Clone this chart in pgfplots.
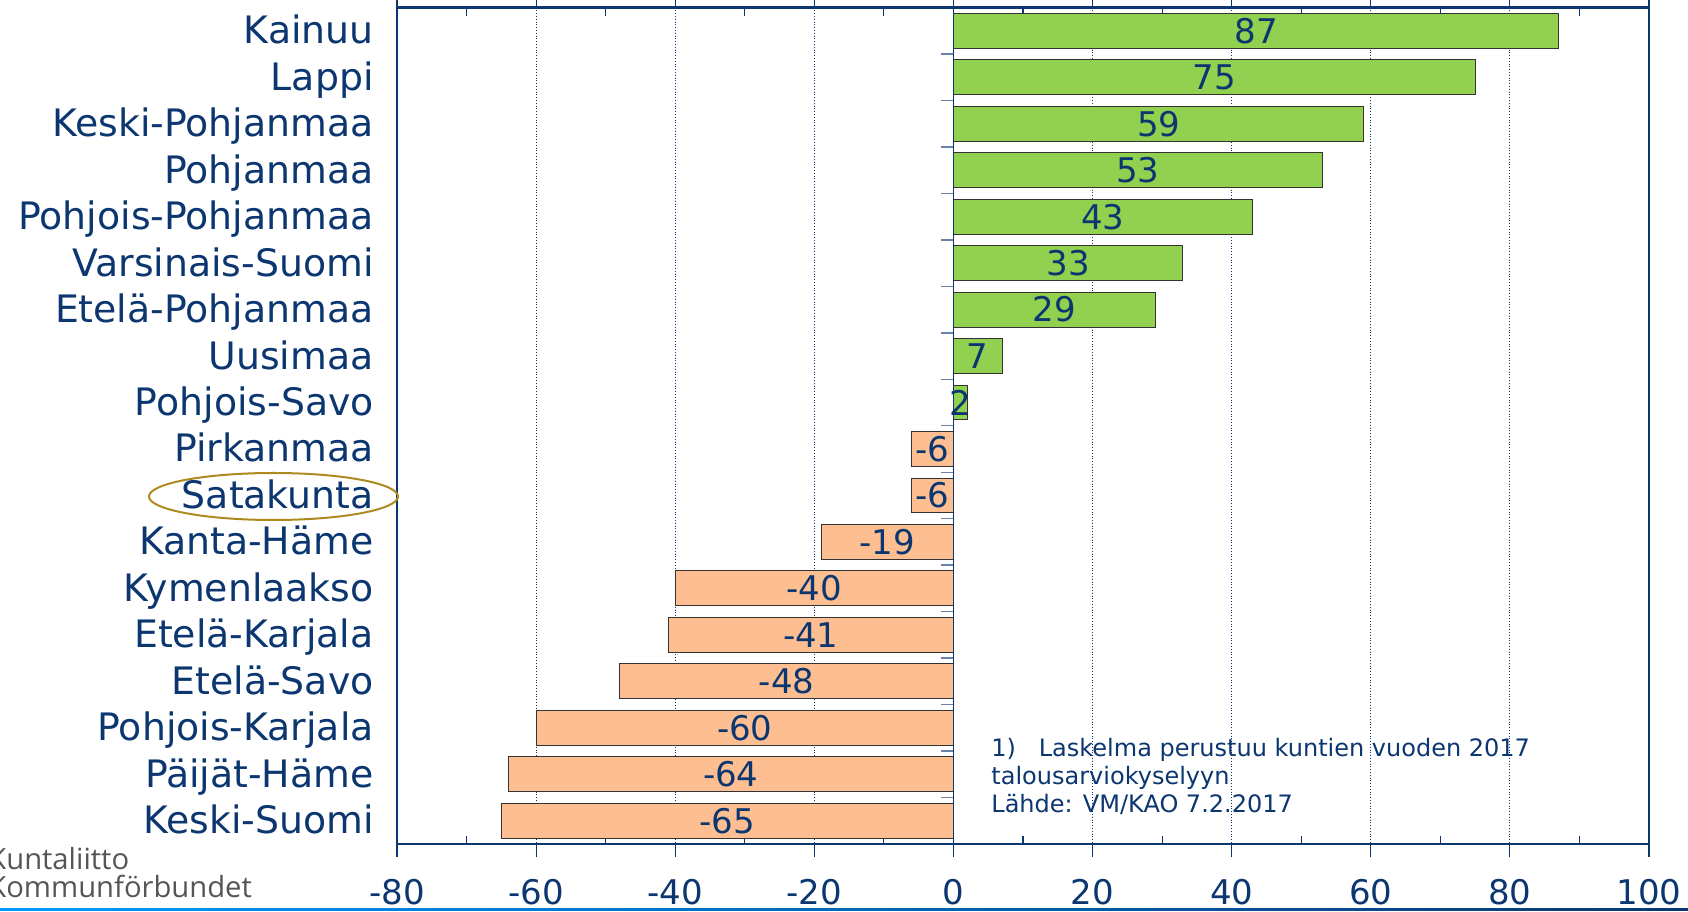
\documentclass[border=0pt]{standalone}
\usepackage{fontspec}
\setmainfont{DejaVu Sans}
\newfontfamily\logofont{Open Sans}
\usepackage{pgfplots}
\usepackage{pgfplotstable}
\pgfplotsset{compat=1.18}
\definecolor{navy}{HTML}{0B3670}
\definecolor{barpos}{HTML}{92D050}
\definecolor{barneg}{HTML}{FDBF92}
\definecolor{gold}{HTML}{AD8A1F}
\definecolor{tickblue}{HTML}{6A82AA}
\definecolor{logogray}{HTML}{555555}

% index 0 = top row
\pgfplotstableread{
i v
0 87
1 75
2 59
3 53
4 43
5 33
6 29
7 7
8 2
}\posdata
\pgfplotstableread{
i v
9 -6
10 -6
11 -19
12 -40
13 -41
14 -48
15 -60
16 -64
17 -65
}\negdata

\begin{document}
\begin{tikzpicture}
\useasboundingbox (0,0) rectangle (844pt,455.5pt);
\begin{axis}[
  at={(198.5pt,33.5pt)}, anchor=south west,
  scale only axis, width=626pt, height=418.25pt,
  xmin=-80, xmax=100,
  ymin=-0.5, ymax=17.5, y dir=reverse,
  xtick={-80,-60,...,100},
  xticklabels={-80,-60,-40,-20,0,20,40,60,80,100},
  extra x ticks={-70,-50,...,90},
  extra x tick labels={},
  extra x tick style={grid=none, tick align=inside, major tick length=4pt},
  tick align=outside, major tick length=6.5pt,
  x tick style={navy, line width=0.6pt},
  ytick={0,...,17},
  yticklabels={Kainuu,Lappi,Keski-Pohjanmaa,Pohjanmaa,Pohjois-Pohjanmaa,Varsinais-Suomi,Etelä-Pohjanmaa,Uusimaa,Pohjois-Savo,Pirkanmaa,Satakunta,Kanta-Häme,Kymenlaakso,Etelä-Karjala,Etelä-Savo,Pohjois-Karjala,Päijät-Häme,Keski-Suomi},
  y tick style={draw=none},
  xmajorgrids,
  grid style={navy, densely dotted, line width=0.5pt},
  axis line style={navy, line width=1.1pt},
  xticklabel style={anchor=north, inner sep=0pt, yshift=-11pt, font=\fontsize{17}{17}\selectfont, text=navy},
  yticklabel style={anchor=base east, inner sep=0pt, xshift=-5pt, yshift=-6.5pt, font=\fontsize{18.9}{19}\selectfont, text=navy},
  clip=false,
]
\addplot[xbar, bar width=0.75, bar shift=0pt, fill=barpos, draw=black!80, line width=0.5pt] table[x=v, y=i] {\posdata};
\addplot[xbar, bar width=0.75, bar shift=0pt, fill=barneg, draw=black!80, line width=0.5pt] table[x=v, y=i] {\negdata};
% zero line with category ticks
\draw[navy, line width=0.8pt] (axis cs:0,-0.5) -- (axis cs:0,17.5);
\pgfplotsinvokeforeach{0,...,16}{
  \draw[tickblue, line width=0.7pt] (axis cs:0,#1.5) -- ([xshift=-6pt]axis cs:0,#1.5);
}
\addplot[only marks, mark=*, mark size=0pt, mark options={draw=none, fill=none},
  nodes near coords, point meta=explicit symbolic,
  nodes near coords style={anchor=center, inner sep=0pt, font=\fontsize{17}{17}\selectfont, text=navy}]
  table[x expr=\thisrow{v}/2, y=i, meta=v] {\posdata};
\addplot[only marks, mark=*, mark size=0pt, mark options={draw=none, fill=none},
  nodes near coords, point meta=explicit symbolic,
  nodes near coords style={anchor=center, inner sep=0pt, font=\fontsize{17}{17}\selectfont, text=navy}]
  table[x expr=\thisrow{v}/2, y=i, meta=v] {\negdata};
\end{axis}
% note
\begin{scope}[every node/.style={anchor=base west, inner sep=0pt, text=navy, font=\fontsize{12}{14}\selectfont}]
\node at (495.5pt,77pt) {1)\hspace{0.95em}Laskelma perustuu kuntien vuoden 2017};
\node at (495.5pt,63pt) {talousarviokyselyyn};
\node at (495.5pt,49pt) {Lähde: VM/KAO 7.2.2017};
\end{scope}
% highlight
\draw[gold, line width=1pt] (136.75pt,207.25pt) ellipse [x radius=62.25pt, y radius=11.75pt];
% logo (cut at the left edge, as in the slide)
\begin{scope}[every node/.style={anchor=base west, inner sep=0pt, text=logogray, font=\logofont\fontsize{14.6}{15}\selectfont}]
\node at (-6pt,20.5pt) {Kuntaliitto};
\node at (-6pt,6.5pt) {Kommunförbundet};
\end{scope}
\shade[left color=cyan!60!blue, right color=navy] (0,0.2pt) rectangle (844pt,1.1pt);
\end{tikzpicture}
\end{document}
